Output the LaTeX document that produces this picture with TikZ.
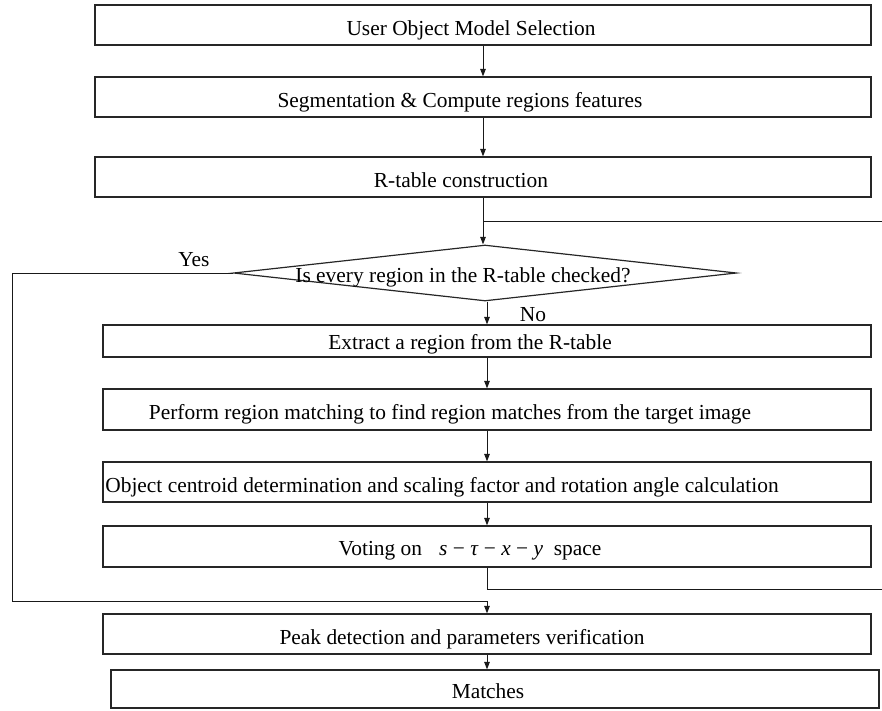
\documentclass[tikz,border=0pt]{standalone}
\usepackage{fontspec}
\setmainfont{Liberation Serif}
\usetikzlibrary{arrows.meta,shapes.geometric}
\begin{document}
\begin{tikzpicture}[x=1pt,y=-1pt,
  boxst/.style={draw=black!85,line width=1.2pt,rectangle,inner sep=0pt,minimum width=768pt},
  txt/.style={inner sep=0pt,anchor=base,font=\fontsize{21.4}{24}\selectfont},
  conn/.style={draw=black!90,line width=1pt},
  arr/.style={conn,-{Triangle[length=7.5pt,width=5.5pt]}}]
\useasboundingbox (0,0) rectangle (882,710);
% boxes
\node[boxst,minimum width=776pt,minimum height=40pt] (b1) at (483,25) {};
\node[boxst,minimum width=776pt,minimum height=40pt] (b2) at (483,97) {};
\node[boxst,minimum width=776pt,minimum height=40pt] (b3) at (483,177) {};
\node[diamond,draw=black!85,line width=1.2pt,inner sep=0pt,minimum width=503pt,minimum height=56pt] (d) at (485,273) {};
\node[boxst,minimum height=32pt] (b4) at (487,341) {};
\node[boxst,minimum height=41pt] (b5) at (487,409.5) {};
\node[boxst,minimum height=40pt] (b6) at (487,482) {};
\node[boxst,minimum height=41pt] (b7) at (487,546.5) {};
\node[boxst,minimum height=40pt] (b8) at (487,634) {};
\node[boxst,minimum height=38pt] (b9) at (495,689) {};
% texts
\node[txt] (t1) at (471,35) {User Object Model Selection};
\node[txt] (t2) at (460,107) {Segmentation \& Compute regions features};
\node[txt] (t3) at (461,187) {R-table construction};
\node[txt] (td) at (463,282) {Is every region in the R-table checked?};
\node[txt] (t4) at (470,349) {Extract a region from the R-table};
\node[txt] (t5) at (450,419) {Perform region matching to find region matches from the target image};
\node[txt] (t6) at (442,492) {Object centroid determination and scaling factor and rotation angle calculation};
\node[txt] (t7) at (470,555) {Voting on\hspace{0.8em}\textit{s} − \textit{τ} − \textit{x} − \textit{y}\hspace{0.25em} space};
\node[txt] (t8) at (462,644) {Peak detection and parameters verification};
\node[txt] (t9) at (488,698) {Matches};
\node[txt] (yes) at (194,266) {Yes};
\node[txt] (no) at (533,321) {No};
% coordinates
\coordinate (r1) at (882,221);
\coordinate (r2) at (882,589);
\coordinate (yl) at (12,273);
% connectors
\draw[arr] (b1.south) -- (b2.north);
\draw[arr] (b2.south) -- (b3.north);
\draw[arr] (b3.south) -- (b3.south |- d.north);
\draw[conn] (r1) -- (r1 -| b3.south);
\draw[arr] (d.south -| b4.north) -- (b4.north);
\draw[arr] (b4.south) -- (b5.north);
\draw[arr] (b5.south) -- (b6.north);
\draw[arr] (b6.south) -- (b7.north);
\draw[conn] (b7.south) |- (r2);
\draw[arr] (d.west) -- (yl) -- (yl |- 0,601) -| (b8.north);
\draw[arr] (b8.south) -- (b8.south |- b9.north);
\end{tikzpicture}
\end{document}
